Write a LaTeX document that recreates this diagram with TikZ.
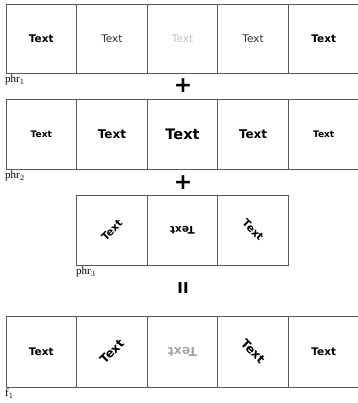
\documentclass[tikz,border=0pt]{standalone}
\usepackage{fontspec}
\setmainfont{Liberation Serif}
\newfontfamily\tfont{DejaVu Sans}
\newfontfamily\symfont{DejaVu Sans}
\begin{document}
\begin{tikzpicture}[x=1pt,y=-1pt,
  cell/.style={draw=black!65, line width=0.7pt, minimum width=70.6pt, minimum height=70pt, inner sep=0pt, outer sep=0pt, anchor=north west},
  word/.style={font=\tfont\bfseries\fontsize{#1}{#1}\selectfont, inner sep=0pt},
  word/.default=10,
  thinword/.style={font=\tfont\fontsize{#1}{#1}\selectfont, inner sep=0pt},
  lbl/.style={font=\fontsize{11}{11}\selectfont, inner sep=0pt, anchor=north west},
  op/.style={font=\symfont\bfseries\fontsize{22}{22}\selectfont, inner sep=0pt}
]
\useasboundingbox (0,0) rectangle (357,403);
\foreach \i/\x in {1/6,2/76.6,3/147.2,4/217.8,5/288.4}{
  \node[cell, minimum height=69pt] (a\i) at (\x,4) {};
  \node[cell] (b\i) at (\x,99) {};
  \node[cell, minimum height=71pt] (d\i) at (\x,316) {};
}
\foreach \i/\x in {1/76.6,2/147.2,3/217.8}{
  \node[cell] (c\i) at (\x,195) {};
}
% row 1 texts
\node[word=10.5] (ta1) at (a1.center) {Text};
\node[thinword=10.5, text=black!80] (ta2) at (a2.center) {Text};
\node[thinword=10.5, text=black!25] (ta3) at (a3.center) {Text};
\node[thinword=10.5, text=black!80] (ta4) at (a4.center) {Text};
\node[word=10.5] (ta5) at (a5.center) {Text};
% row 2 texts
\node[word=9] (tb1) at (b1.center) {Text};
\node[word=12] (tb2) at (b2.center) {Text};
\node[word=14.5] (tb3) at (b3.center) {Text};
\node[word=12] (tb4) at (b4.center) {Text};
\node[word=9] (tb5) at (b5.center) {Text};
% row 3 texts
\node[word=10.5, rotate=45] (tc1) at (c1.center) {Text};
\node[word=10.5, rotate=180] (tc2) at (c2.center) {Text};
\node[word=10.5, rotate=-45] (tc3) at (c3.center) {Text};
% row 4 texts
\node[word=10.5] (td1) at (d1.center) {Text};
\node[word=12, rotate=45] (td2) at (d2.center) {Text};
\node[word=12.5, rotate=180, text=black!35] (td3) at (d3.center) {Text};
\node[word=12, rotate=-45] (td4) at (d4.center) {Text};
\node[word=10.5] (td5) at (d5.center) {Text};
% labels
\node[lbl] (l1) at (5,75) {phr$_1$};
\node[lbl] (l2) at (5,171) {phr$_2$};
\node[lbl] (l3) at (76,267) {phr$_3$};
\node[lbl] (l4) at (5,389) {f$_1$};
% operators
\node[op] (p1) at (183,86) {+};
\node[op] (p2) at (183,183) {+};
\node[font=\symfont\bfseries\fontsize{15}{15}\selectfont, inner sep=0pt] (eq) at (183,288) {II};
\end{tikzpicture}
\end{document}
